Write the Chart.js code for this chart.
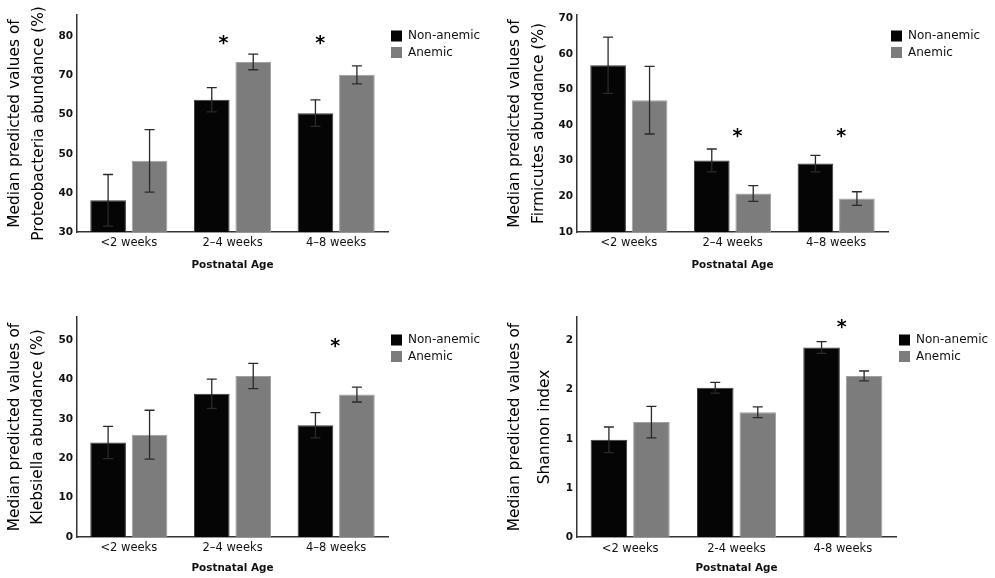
<!DOCTYPE html>
<html><head><meta charset="utf-8">
<script src="https://cdn.jsdelivr.net/npm/chart.js@4.4.1/dist/chart.umd.min.js"></script>
<style>
html,body{margin:0;padding:0;background:#fff;width:995px;height:578px;overflow:hidden}
canvas{position:absolute;display:block}
</style></head><body>
<canvas id="c1" width="497" height="290" style="left:0;top:0"></canvas>
<canvas id="c2" width="495" height="290" style="left:500px;top:0"></canvas>
<canvas id="c3" width="497" height="288" style="left:0;top:290px"></canvas>
<canvas id="c4" width="495" height="288" style="left:500px;top:290px"></canvas>
<script>
// ---- data ----
const categories = ['<2 weeks', '2\u20134 weeks', '4\u20138 weeks'];
const categoriesShannon = ['<2 weeks', '2-4 weeks', '4-8 weeks'];
const seriesNames = ['Non-anemic', 'Anemic'];
const xTitle = 'Postnatal Age';

const proteoNonAnemic = [38.1, 63.8, 60.4];
const proteoNonAnemicErr = [6.6, 3.1, 3.4];
const proteoAnemic = [48.2, 73.5, 70.2];
const proteoAnemicErr = [8.0, 2.0, 2.3];
const proteoTicks = [30, 40, 50, 60, 70, 80];
const proteoTickLabels = ['30', '40', '50', '50', '70', '80'];
const proteoSig = [null, 78.6, 78.6];
const proteoTitle = ['Median predicted values of', 'Proteobacteria abundance (%)'];

const firmNonAnemic = [56.8, 30.1, 29.2];
const firmNonAnemicErr = [7.9, 3.2, 2.3];
const firmAnemic = [47.0, 20.8, 19.4];
const firmAnemicErr = [9.5, 2.2, 1.9];
const firmTicks = [10, 20, 30, 40, 50, 60, 70];
const firmTickLabels = ['10', '20', '30', '40', '50', '60', '70'];
const firmSig = [null, 37.2, 37.2];
const firmTitle = ['Median predicted values of', 'Firmicutes abundance (%)'];

const klebNonAnemic = [24.0, 36.4, 28.4];
const klebNonAnemicErr = [4.1, 3.7, 3.2];
const klebAnemic = [26.0, 40.9, 36.2];
const klebAnemicErr = [6.2, 3.2, 1.9];
const klebTicks = [0, 10, 20, 30, 40, 50];
const klebTickLabels = ['0', '10', '20', '30', '40', '50'];
const klebSig = [null, null, 48.9];
const klebTitle = ['Median predicted values of', 'Klebsiella abundance (%)'];

const shanNonAnemic = [0.99, 1.52, 1.93];
const shanNonAnemicErr = [0.13, 0.055, 0.06];
const shanAnemic = [1.17, 1.27, 1.64];
const shanAnemicErr = [0.16, 0.055, 0.05];
const shanTicks = [0, 0.5, 1.0, 1.5, 2.0];
const shanTickLabels = ['0', '1', '1', '2', '2'];
const shanSig = [null, null, 2.15];
const shanTitle = ['Median predicted values of', 'Shannon index'];

// ---- styling ----
const FONT = '"DejaVu Sans", "Liberation Sans", sans-serif';
const BLACK = '#050505';
const GRAY = '#7c7c7c';
const AXIS = '#333333';

function makeChart(id, p) {
  const errorBars = {
    id: 'errorBars',
    afterDatasetsDraw(chart) {
      const ctx = chart.ctx, y = chart.scales.y;
      ctx.save();
      ctx.strokeStyle = '#2a2a2a';
      ctx.lineWidth = 1.3;
      chart.data.datasets.forEach((ds, i) => {
        const meta = chart.getDatasetMeta(i);
        meta.data.forEach((bar, j) => {
          const v = ds.data[j], e = ds.errors[j];
          const x = bar.x;
          const yt = y.getPixelForValue(v + e), yb = y.getPixelForValue(v - e);
          const cw = 5;
          ctx.beginPath();
          ctx.moveTo(x, yt); ctx.lineTo(x, yb);
          ctx.moveTo(x - cw, yt); ctx.lineTo(x + cw, yt);
          ctx.moveTo(x - cw, yb); ctx.lineTo(x + cw, yb);
          ctx.stroke();
        });
      });
      ctx.restore();
    }
  };
  const marks = {
    id: 'marks',
    afterDraw(chart) {
      const ctx = chart.ctx, xs = chart.scales.x, ys = chart.scales.y, ca = chart.chartArea;
      ctx.save();
      // significance asterisks
      ctx.fillStyle = '#000';
      ctx.font = 'bold 19px ' + FONT;
      ctx.textAlign = 'center';
      ctx.textBaseline = 'alphabetic';
      p.sig.forEach((s, j) => {
        if (s === null) return;
        ctx.fillText('*', xs.getPixelForValue(j) + p.sigDx[j], ys.getPixelForValue(s) + 7);
      });
      // legend
      ctx.textAlign = 'left';
      ctx.textBaseline = 'middle';
      ctx.font = '12px ' + FONT;
      chart.data.datasets.forEach((ds, i) => {
        const ly = ca.top + p.legY + i * 16.5;
        const lx = ca.right + p.legDx;
        ctx.fillStyle = ds.backgroundColor;
        ctx.fillRect(lx, ly - 5.5, 11, 11);
        ctx.fillStyle = '#111';
        ctx.fillText(ds.label, lx + 17, ly);
      });
      ctx.restore();
    }
  };
  return new Chart(document.getElementById(id), {
    type: 'bar',
    data: {
      labels: p.labels,
      datasets: [
        { label: seriesNames[0], data: p.na, errors: p.naErr, backgroundColor: BLACK, borderColor: '#3a3a3a', borderWidth: 1 },
        { label: seriesNames[1], data: p.an, errors: p.anErr, backgroundColor: GRAY, borderColor: '#a0a0a0', borderWidth: 1 }
      ]
    },
    options: {
      responsive: false,
      animation: false,
      events: [],
      categoryPercentage: 0.8,
      barPercentage: 0.86,
      layout: { padding: { left: 0, right: p.padRight, top: p.padTop, bottom: 0 } },
      plugins: { legend: { display: false }, tooltip: { enabled: false } },
      scales: {
        x: {
          type: 'category',
          grid: { display: false, drawTicks: false },
          border: { display: true, color: AXIS, width: 1.5 },
          ticks: { padding: p.xTickPad, color: '#111', font: { family: FONT, size: 11.5 }, maxRotation: 0 },
          title: { display: true, text: xTitle, color: '#111', font: { family: FONT, size: 10.4, weight: 'bold' }, padding: { top: 0, bottom: p.xTitlePad } },
          afterFit: s => { s.height = p.xHeight; }
        },
        y: {
          type: 'linear',
          min: p.min, max: p.max,
          afterBuildTicks: s => { s.ticks = p.ticks.map(v => ({ value: v })); },
          grid: { display: false, drawTicks: false },
          border: { display: true, color: AXIS, width: 1.5 },
          ticks: { padding: 4, color: '#111', font: { family: FONT, size: 10.5, weight: 'bold' }, callback: (v, i) => p.tickLabels[i] },
          title: { display: true, text: p.title, color: '#000', font: { family: FONT, size: 15.4, lineHeight: p.titleLH }, padding: { top: p.titleTop, bottom: 0 } },
          afterFit: s => { s.width = 77; }
        }
      }
    },
    plugins: [errorBars, marks]
  });
}

makeChart('c1', { labels: categories, na: proteoNonAnemic, naErr: proteoNonAnemicErr, an: proteoAnemic, anErr: proteoAnemicErr,
  ticks: proteoTicks, tickLabels: proteoTickLabels, sig: proteoSig, sigDx: [0, -9, -16], title: proteoTitle,
  min: 30, max: 85.5, padTop: 15, padRight: 109, xHeight: 58, xTickPad: 4, xTitlePad: 18, titleLH: 1.55, titleTop: 3, legY: 21, legDx: 3 });
makeChart('c2', { labels: categories, na: firmNonAnemic, naErr: firmNonAnemicErr, an: firmAnemic, anErr: firmAnemicErr,
  ticks: firmTicks, tickLabels: firmTickLabels, sig: firmSig, sigDx: [0, 5, 5], title: firmTitle,
  min: 10, max: 70.9, padTop: 15, padRight: 107, xHeight: 58, xTickPad: 4, xTitlePad: 18, titleLH: 1.55, titleTop: 3, legY: 21, legDx: 3 });
makeChart('c3', { labels: categories, na: klebNonAnemic, naErr: klebNonAnemicErr, an: klebAnemic, anErr: klebAnemicErr,
  ticks: klebTicks, tickLabels: klebTickLabels, sig: klebSig, sigDx: [0, 0, -1], title: klebTitle,
  min: 0, max: 55.9, padTop: 27, padRight: 109, xHeight: 41, xTickPad: 4, xTitlePad: 3, titleLH: 1.5, titleTop: 3, legY: 23, legDx: 3 });
makeChart('c4', { labels: categoriesShannon, na: shanNonAnemic, naErr: shanNonAnemicErr, an: shanAnemic, anErr: shanAnemicErr,
  ticks: shanTicks, tickLabels: shanTickLabels, sig: shanSig, sigDx: [0, 0, -1], title: shanTitle,
  min: 0, max: 2.24, padTop: 27, padRight: 99, xHeight: 41, xTickPad: 5, xTitlePad: 3, titleLH: 1.95, titleTop: 0, legY: 23, legDx: 3 });
</script>
</body></html>
